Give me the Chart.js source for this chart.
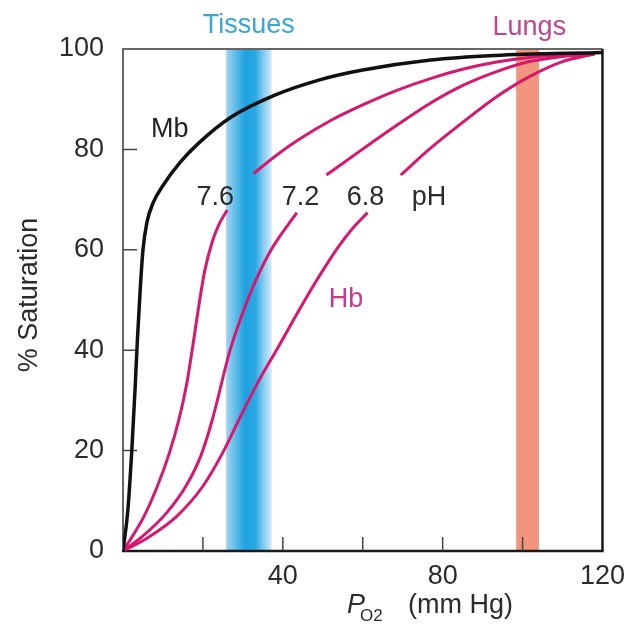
<!DOCTYPE html>
<html>
<head>
<meta charset="utf-8">
<script src="https://cdn.jsdelivr.net/npm/chart.js@4/dist/chart.umd.min.js"></script>
<style>
  body { margin: 0; background: #fff; }
  #wrap { width: 634px; height: 626px; }
</style>
</head>
<body>
<div id="wrap"><canvas id="satChart" width="634" height="626"></canvas></div>
<script>
// O2 saturation curves, pO2 in mm Hg vs % saturation
var mbPO2 = [0, 1.2, 2.2, 3, 3.6, 4.3, 5, 6, 7.5, 10, 14.5, 19, 27, 38, 49, 60, 77, 93, 120];
var mbSat = [0, 8, 20, 32, 42, 52, 60, 65.5, 69.3, 72.8, 77.6, 81.3, 86.4, 90.8, 93.8, 95.8, 97.8, 98.7, 99.3];

// Hb at three pH values, null = break in the line where the label sits
var hb76PO2 = [0, 2, 5, 8.4, 11.6, 14.1, 16, 17.4, 19, 20.5, 22.5, 24.3, 26.1, 29, 32.7, 38, 43.9, 52.1, 60.4, 68.7, 76.9, 85.2, 93.5, 101.7, 110, 118];
var hb76Sat = [0, 2.5, 6.5, 12.5, 19.5, 26.5, 33.5, 40.5, 49, 56, 62, 65.5, 67.9, null, 75.2, 78.6, 81.9, 85.8, 89, 91.8, 94.1, 96, 97.4, 98.3, 98.8, 99.1];

var hb72PO2 = [0, 5, 10.8, 15.8, 19.5, 22.3, 26.8, 30, 33, 37.3, 43.5, 47, 50.9, 60.4, 68.7, 76.9, 85.2, 93.5, 101.7, 110, 118];
var hb72Sat = [0, 3, 7.5, 13, 19, 26, 40, 47.5, 53.5, 60.3, 67.4, null, 74.9, 80.3, 84.9, 89.2, 92.8, 95.5, 97.5, 98.5, 99];

var hb68PO2 = [0, 5.9, 13.3, 19.9, 24.9, 28.8, 33.5, 38.9, 43, 47, 50.5, 53.8, 57.5, 61.2, 65, 69.5, 76.9, 85.2, 93.5, 101.7, 110, 118];
var hb68Sat = [0, 2.5, 6.8, 12.8, 19.5, 25.8, 33.2, 40.7, 46.5, 52, 56.5, 60.5, 64.3, 67.4, null, 74.9, 80.2, 85.5, 90.5, 94.5, 97.5, 99];

// shaded pO2 ranges
var tissueRange = [25.8, 37.2];
var lungRange = [98.4, 104.1];

var xTicksShown = [40, 80, 120];

var FONT = "'Liberation Sans', Arial, Helvetica, sans-serif";
var HB_COLOR = '#d8176f';

function points(xs, ys) {
    return xs.map(function (x, i) { return { x: x, y: ys[i] }; });
}

function curve(label, xs, ys, color, width) {
    return {
        label: label,
        data: points(xs, ys),
        borderColor: color,
        borderWidth: width,
        pointRadius: 0,
        fill: false,
        spanGaps: false,
        cubicInterpolationMode: 'monotone'
    };
}

// bands, frame and inward tick marks, under the curves
var underlay = {
    id: 'underlay',
    beforeDatasetsDraw: function (chart) {
        var ctx = chart.ctx, a = chart.chartArea,
            xs = chart.scales.x, ys = chart.scales.y;
        ctx.save();

        var t0 = xs.getPixelForValue(tissueRange[0]),
            t1 = xs.getPixelForValue(tissueRange[1]);
        var g = ctx.createLinearGradient(t0, 0, t1, 0);
        g.addColorStop(0, '#a3d5f1');
        g.addColorStop(0.22, '#5cbbe9');
        g.addColorStop(0.42, '#1ea2e0');
        g.addColorStop(0.64, '#2aa8e2');
        g.addColorStop(0.84, '#8fcff1');
        g.addColorStop(1, '#cfeaf9');
        ctx.fillStyle = g;
        ctx.fillRect(t0, a.top, t1 - t0, a.bottom - a.top);

        var l0 = xs.getPixelForValue(lungRange[0]),
            l1 = xs.getPixelForValue(lungRange[1]);
        ctx.fillStyle = '#f1957d';
        ctx.fillRect(l0, a.top, l1 - l0, a.bottom - a.top);

        // frame
        ctx.lineWidth = 2;
        ctx.strokeStyle = '#666';
        ctx.beginPath();
        ctx.moveTo(a.left, a.bottom);
        ctx.lineTo(a.left, a.top);
        ctx.lineTo(a.right, a.top);
        ctx.stroke();
        ctx.strokeStyle = '#1a1a1a';
        ctx.lineWidth = 2.5;
        ctx.beginPath();
        ctx.moveTo(a.left - 1, a.bottom);
        ctx.lineTo(a.right, a.bottom);
        ctx.lineTo(a.right, a.top);
        ctx.stroke();

        // ticks point into the plot
        ctx.lineWidth = 1.5;
        ctx.strokeStyle = '#444';
        ctx.beginPath();
        xs.ticks.forEach(function (t) {
            if (t.value <= xs.min || t.value >= xs.max) return;
            var px = xs.getPixelForValue(t.value);
            ctx.moveTo(px, a.bottom);
            ctx.lineTo(px, a.bottom - 14);
        });
        ys.ticks.forEach(function (t) {
            if (t.value <= ys.min || t.value >= ys.max) return;
            var py = ys.getPixelForValue(t.value);
            ctx.moveTo(a.left, py);
            ctx.lineTo(a.left + 14, py);
        });
        ctx.stroke();
        ctx.restore();
    }
};

// curve labels and axis titles
var labels = [
    { text: 'Tissues', x: 31.5, y: 103.2, color: '#3aa6d8' },
    { text: 'Lungs', x: 101.7, y: 102.8, color: '#c0448e' },
    { text: 'Mb', x: 11.7, y: 82.5, color: '#222' },
    { text: '7.6', x: 23.1, y: 68.9, color: '#2b2b2b' },
    { text: '7.2', x: 44.4, y: 68.9, color: '#2b2b2b' },
    { text: '6.8', x: 60.7, y: 68.9, color: '#2b2b2b' },
    { text: 'pH', x: 76.6, y: 68.9, color: '#2b2b2b' },
    { text: 'Hb', x: 55.8, y: 48.6, color: '#c53a8c' }
];

var overlay = {
    id: 'overlay',
    afterDraw: function (chart) {
        var ctx = chart.ctx, a = chart.chartArea,
            xs = chart.scales.x, ys = chart.scales.y;
        ctx.save();
        ctx.font = '27px ' + FONT;
        ctx.textAlign = 'center';
        ctx.textBaseline = 'alphabetic';
        labels.forEach(function (l) {
            ctx.fillStyle = l.color;
            ctx.fillText(l.text, xs.getPixelForValue(l.x), ys.getPixelForValue(l.y));
        });

        // y title
        ctx.fillStyle = '#2b2b2b';
        ctx.save();
        ctx.translate(30, (a.top + a.bottom) / 2 - 5);
        ctx.rotate(-Math.PI / 2);
        ctx.textBaseline = 'middle';
        ctx.fillText('% Saturation', 0, 0);
        ctx.restore();

        // x title: italic P with subscript O2
        var base = a.bottom + 62;
        var x0 = a.left + 224;
        ctx.textAlign = 'left';
        ctx.font = 'italic 27px ' + FONT;
        ctx.fillText('P', x0, base);
        ctx.font = '17px ' + FONT;
        ctx.fillText('O2', x0 + 13, base + 8);
        ctx.font = '27px ' + FONT;
        ctx.fillText('(mm Hg)', x0 + 61, base);
        ctx.restore();
    }
};

new Chart(document.getElementById('satChart'), {
    type: 'line',
    data: {
        datasets: [
            curve('Mb', mbPO2, mbSat, '#111', 3.5),
            curve('Hb pH 7.6', hb76PO2, hb76Sat, HB_COLOR, 3),
            curve('Hb pH 7.2', hb72PO2, hb72Sat, HB_COLOR, 3),
            curve('Hb pH 6.8', hb68PO2, hb68Sat, HB_COLOR, 3)
        ]
    },
    options: {
        responsive: false,
        animation: false,
        events: [],
        layout: { padding: { top: 49, right: 27, left: 0, bottom: 0 } },
        plugins: { legend: { display: false }, tooltip: { enabled: false } },
        scales: {
            x: {
                type: 'linear',
                min: 0, max: 120,
                afterFit: function (s) { s.height = 75; },
                grid: { display: false, drawTicks: false },
                border: { display: false },
                ticks: {
                    stepSize: 20,
                    autoSkip: false,
                    maxRotation: 0,
                    padding: 9,
                    color: '#2b2b2b',
                    font: { family: FONT, size: 27 },
                    callback: function (v) { return xTicksShown.indexOf(v) >= 0 ? v : ''; }
                }
            },
            y: {
                min: 0, max: 100,
                afterFit: function (s) { s.width = 123; },
                grid: { display: false, drawTicks: false },
                border: { display: false },
                ticks: {
                    stepSize: 20,
                    padding: 19,
                    color: '#2b2b2b',
                    font: { family: FONT, size: 27 }
                }
            }
        }
    },
    plugins: [underlay, overlay]
});
</script>
</body>
</html>
